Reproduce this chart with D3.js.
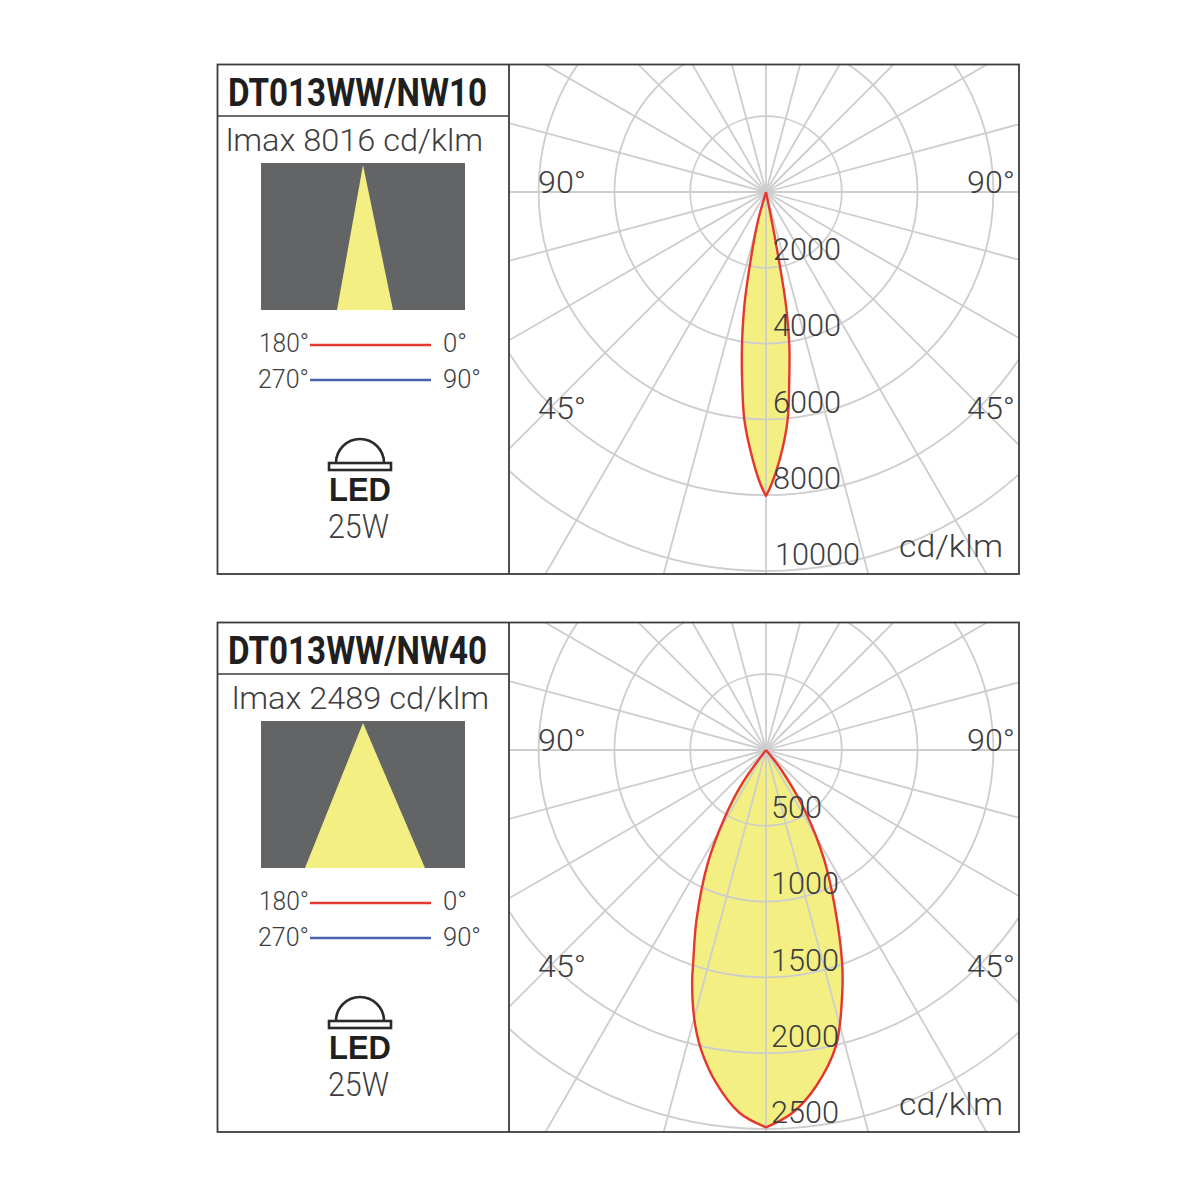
<!DOCTYPE html>
<html>
<head>
<meta charset="utf-8">
<script src="https://cdn.jsdelivr.net/npm/d3@7"></script>
<style>
  html, body { margin: 0; padding: 0; background: #fff; }
  text { font-family: Roboto, "Liberation Sans", sans-serif; font-weight: 300; fill: #3d3d3f; }
  text.title { font-family: "Liberation Sans Narrow", Roboto, sans-serif; font-weight: 700; fill: #1f1f21; }
  text.led { font-family: "Liberation Sans", sans-serif; font-weight: 700; fill: #1f1f21; }
</style>
</head>
<body>
<svg id="chart" width="1200" height="1200"></svg>
<script>
// narrow beam (10 deg) - angle from nadir, cd/klm
var anglesNarrowLeft = [17, 15.5, 12.3, 10.8, 8.9, 7.3, 5.4, 2.9, 1, 0];
var valuesNarrowLeft = [0, 821, 2069, 3045, 4095, 4966, 6050, 7044, 7740, 8016];
var anglesNarrowRight = [13, 11.3, 10.6, 10, 8.65, 7.1, 5.4, 3, 1, 0];
var valuesNarrowRight = [0, 807, 2055, 3036, 4090, 4964, 6050, 7044, 7740, 8016];
var ticksNarrow = [2000, 4000, 6000, 8000, 10000];

// wide beam (40 deg)
var anglesWideLeft = [37, 35.5, 31.6, 27.2, 22.3, 18.9, 17.6, 14.9, 12.25, 8.55, 4.2, 0];
var valuesWideLeft = [0, 265, 511, 841, 1207, 1483, 1611, 1839, 2021, 2219, 2399, 2489];
var anglesWideRight = [40, 37.8, 32.5, 27.95, 23.76, 19.7, 17.2, 13.3, 8.5, 4.2, 0];
var valuesWideRight = [0, 161, 490, 819, 1124, 1489, 1698, 2006, 2241, 2399, 2489];
var ticksWide = [500, 1000, 1500, 2000, 2500];

var rayAngles = d3.range(0, 360, 15);
var svg = d3.select("#chart");

function label(g, s, x, y, size, width, cls) {
  var t = g.append("text").attr("x", x).attr("y", y).attr("font-size", size).text(s);
  if (width) t.attr("textLength", width).attr("lengthAdjust", "spacingAndGlyphs");
  if (cls) t.attr("class", cls);
  return t;
}

function drawPanel(id, top, title, lmax, lmaxX, beamHalf, ticks, tickX, aL, vL, aR, vR) {
  var g = svg.append("g").attr("transform", "translate(0," + top + ")");
  var cx = 766, cy = 128;

  var clip = g.append("clipPath").attr("id", "clip" + id);
  clip.append("rect").attr("x", 510).attr("y", 0).attr("width", 509).attr("height", 510);
  var plot = g.append("g").attr("clip-path", "url(#clip" + id + ")");

  var r = d3.scaleLinear().domain([0, ticks[ticks.length - 1]]).range([0, 379]);
  var toXY = (a, v, side) => [side * r(v) * Math.sin(a * Math.PI / 180), r(v) * Math.cos(a * Math.PI / 180)];
  var line = d3.line().curve(d3.curveCatmullRom.alpha(0.5));

  // left side goes from the centre out to the tip, right side comes back
  var left = aL.map((a, i) => toXY(a, vL[i], -1));
  var right = aR.map((a, i) => toXY(a, vR[i], 1)).reverse();
  var outline = line(left) + line(right).replace(/^M/, "L");

  var c = plot.append("g").attr("transform", "translate(" + cx + "," + cy + ")");
  c.append("path").attr("d", outline).attr("fill", "#f4ef83");

  // grid sits over the fill
  ticks.forEach(function(t) {
    c.append("circle").attr("r", r(t)).attr("fill", "none").attr("stroke", "#cdcdce").attr("stroke-width", 1.8);
  });
  rayAngles.forEach(function(a) {
    var rad = a * Math.PI / 180;
    c.append("line")
      .attr("x1", 0).attr("y1", 0)
      .attr("x2", 700 * Math.sin(rad)).attr("y2", -700 * Math.cos(rad))
      .attr("stroke", "#cdcdce").attr("stroke-width", 1.8);
  });
  c.append("path").attr("d", outline).attr("fill", "none")
    .attr("stroke", "#e4372f").attr("stroke-width", 2.4).attr("stroke-linejoin", "round");

  // frame
  g.append("rect").attr("x", 217.5).attr("y", 0.5).attr("width", 801.5).attr("height", 509.5)
    .attr("fill", "none").attr("stroke", "#3c3c3e").attr("stroke-width", 1.8);
  g.append("line").attr("x1", 509).attr("x2", 509).attr("y1", 0).attr("y2", 510)
    .attr("stroke", "#3c3c3e").attr("stroke-width", 1.8);
  g.append("line").attr("x1", 217).attr("x2", 509).attr("y1", 52).attr("y2", 52)
    .attr("stroke", "#3c3c3e").attr("stroke-width", 1.4);

  label(g, title, 228, 42, 39, 259, "title");
  label(g, lmax, lmaxX, 87, 32, 257);

  // beam picture
  g.append("rect").attr("x", 261).attr("y", 99).attr("width", 204).attr("height", 147).attr("fill", "#636466");
  g.append("path")
    .attr("d", d3.line()([[363, 101], [365 + beamHalf, 246], [365 - beamHalf, 246]]) + "Z")
    .attr("fill", "#f4ef83");

  // legend
  g.append("line").attr("x1", 310).attr("x2", 431).attr("y1", 281).attr("y2", 281).attr("stroke", "#e4372f").attr("stroke-width", 2.4);
  g.append("line").attr("x1", 310).attr("x2", 431).attr("y1", 316).attr("y2", 316).attr("stroke", "#4a61ab").attr("stroke-width", 2.4);
  label(g, "180°", 259, 288, 25, 50);
  label(g, "0°", 443, 288, 25, 24);
  label(g, "270°", 258, 324, 25, 51);
  label(g, "90°", 443, 324, 25, 38);

  // led icon
  var dome = d3.path();
  dome.arc(360, 399, 24, Math.PI, 0);
  g.append("path").attr("d", dome.toString()).attr("fill", "none").attr("stroke", "#2b2b2d").attr("stroke-width", 2.6);
  g.append("rect").attr("x", 329).attr("y", 399).attr("width", 62).attr("height", 7)
    .attr("fill", "none").attr("stroke", "#2b2b2d").attr("stroke-width", 2.6);
  label(g, "LED", 329, 437, 33, 62, "led");
  label(g, "25W", 328, 474, 34, 61);

  // angle labels
  label(g, "90°", 538, 129, 32, 48);
  label(g, "90°", 967, 129, 32, 48);
  label(g, "45°", 538, 355, 32, 48);
  label(g, "45°", 967, 355, 32, 48);
  label(g, "cd/klm", 899, 493, 32, 104);

  // ring labels
  ticks.forEach(function(t, i) {
    var s = String(t);
    label(g, s, tickX + (s.length > 4 ? 2 : 0), cy + r(t) - 8 + i * 0.6, 32, s.length * 17);
  });
}

drawPanel("a", 64, "DT013WW/NW10", "lmax 8016 cd/klm", 226, 28, ticksNarrow, 773,
  anglesNarrowLeft, valuesNarrowLeft, anglesNarrowRight, valuesNarrowRight);
drawPanel("b", 622, "DT013WW/NW40", "lmax 2489 cd/klm", 232, 60, ticksWide, 771,
  anglesWideLeft, valuesWideLeft, anglesWideRight, valuesWideRight);
</script>
</body>
</html>
